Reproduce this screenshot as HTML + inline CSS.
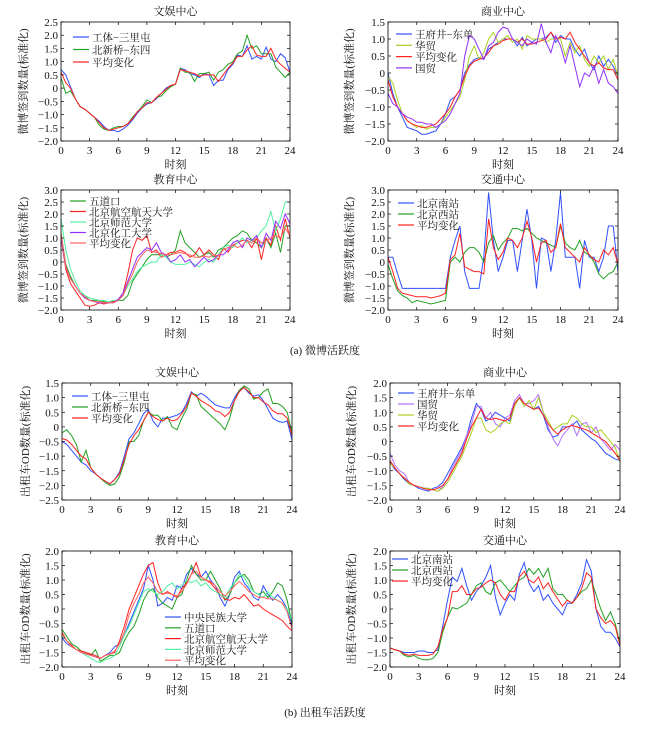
<!DOCTYPE html>
<html><head><meta charset="utf-8"><style>
body{margin:0;background:#fff}
svg text{font-family:"Liberation Serif","Noto Serif CJK SC",serif;fill:#111}
</style></head><body>
<svg id="fig" width="650" height="739" viewBox="0 0 650 739" xmlns="http://www.w3.org/2000/svg">
<text x="325" y="354" text-anchor="middle" font-size="11">(a) 微博活跃度</text>
<text x="325" y="716" text-anchor="middle" font-size="11">(b) 出租车活跃度</text>
</svg>
<script>
// data: values at t = 0,0.5,...,24
const xTicks=[0,3,6,9,12,15,18,21,24];
const a1Blue=[0.7,0.5,0.05,-0.4,-0.7,-0.8,-0.95,-1.1,-1.25,-1.45,-1.6,-1.6,-1.65,-1.55,-1.4,-1.2,-0.95,-0.75,-0.6,-0.55,-0.4,-0.2,0,0.1,0.15,0.75,0.7,0.55,0.5,0.4,0.55,0.5,0.1,0.3,0.3,0.7,0.9,1.25,1.2,1.6,1.1,1.2,1.1,1.55,1.1,1.0,1.3,1.15,0.6];
const a1Green=[0.4,-0.2,-0.1,-0.4,-0.7,-0.8,-0.95,-1.1,-1.4,-1.55,-1.6,-1.5,-1.45,-1.45,-1.35,-1.1,-0.9,-0.7,-0.45,-0.55,-0.35,-0.3,-0.1,0.05,0.15,0.75,0.6,0.6,0.25,0.55,0.55,0.6,0.3,0.6,0.7,0.9,1.0,1.3,1.4,2.0,1.5,1.6,1.3,1.3,1.3,0.8,0.6,0.4,0.6];
const a1Avg=[0.6,0.2,0,-0.4,-0.7,-0.8,-0.95,-1.1,-1.3,-1.5,-1.6,-1.55,-1.5,-1.45,-1.35,-1.15,-0.9,-0.75,-0.55,-0.55,-0.35,-0.2,-0.05,0.1,0.15,0.7,0.65,0.6,0.55,0.45,0.5,0.5,0.5,0.25,0.5,0.75,0.95,1.2,1.2,1.45,1.6,1.25,1.2,1.2,1.5,1.1,0.9,0.75,0.6];
const a2Blue=[0,-0.6,-1.0,-1.3,-1.6,-1.65,-1.7,-1.8,-1.8,-1.75,-1.7,-1.5,-1.2,-0.8,-0.7,-0.5,0,0.25,0.4,0.45,0.4,0.7,0.8,0.9,1.0,1.0,1.0,0.8,1.05,0.8,0.9,1.0,1.0,1.05,1.2,0.9,1.1,1.0,1.0,0.7,0.5,0.7,0.3,0.1,0.5,0.2,0.4,0.2,-0.1];
const a2Lime=[-0.1,-0.3,-0.8,-1.2,-1.4,-1.5,-1.6,-1.55,-1.65,-1.6,-1.6,-1.5,-1.3,-1.1,-0.9,-0.7,-0.2,0.5,0.8,0.4,0.6,1.0,1.2,0.9,1.0,1.1,0.9,1.0,0.7,1.1,1.0,1.0,1.0,0.9,1.0,1.0,1.0,0.5,0.9,0.6,0.8,0.4,0.2,0.5,0.3,0.5,0.1,0.4,-0.1];
const a2Avg=[-0.2,-0.7,-1.0,-1.2,-1.4,-1.5,-1.55,-1.6,-1.6,-1.55,-1.5,-1.35,-1.2,-1.0,-0.7,-0.5,-0.1,0.2,0.35,0.4,0.45,0.6,0.8,0.85,0.95,1.0,1.0,0.9,1.0,0.85,0.85,0.9,0.95,1.0,1.2,1.0,1.05,1.0,1.2,0.9,0.7,0.5,0.3,0.2,0.3,0.15,0.1,0.1,-0.2];
const a2Purple=[-0.6,-0.9,-1.0,-1.2,-1.3,-1.35,-1.45,-1.45,-1.5,-1.5,-1.6,-1.5,-1.4,-1.2,-0.9,-0.6,0.5,1.1,1.0,0.7,0.4,0.8,0.9,1.2,1.35,1.3,1.0,0.9,0.8,1.0,0.9,0.85,1.45,0.9,0.6,1.1,0.8,0.3,0.8,0.2,-0.4,0.0,-0.1,0.2,-0.3,0.1,-0.3,-0.4,-0.6];
const a3Green=[1.2,-0.1,-0.6,-1.0,-1.3,-1.4,-1.6,-1.6,-1.6,-1.65,-1.7,-1.65,-1.6,-1.6,-1.4,-0.8,-0.5,-0.2,0.1,0.3,0.3,0.3,0.2,0.3,0.5,1.3,0.8,0.6,0.4,0.2,0.3,0.4,0.2,0.5,0.6,0.8,1.0,1.1,1.3,1.2,0.9,0.8,0.6,1.0,0.6,1.2,0.4,1.5,1.5];
const a3Red=[1.0,-0.3,-0.9,-1.2,-1.5,-1.8,-1.85,-1.8,-1.7,-1.75,-1.7,-1.65,-1.6,-1.3,-0.5,0.5,1.0,0.9,1.1,0.4,0.5,0.2,0.3,0.4,0.4,0.5,0.4,0.2,0.3,0.6,0.3,0.5,0.3,0.1,0.6,0.4,0.7,0.8,0.9,0.9,0.6,1.0,0.1,1.0,0.7,1.5,0.9,1.8,1.0];
const a3Aqua=[1.8,0.5,-0.3,-0.8,-1.2,-1.4,-1.5,-1.55,-1.6,-1.6,-1.65,-1.6,-1.6,-1.4,-1.0,-0.7,-0.4,-0.2,-0.1,0.0,0.0,0.3,0.2,0.0,-0.1,-0.1,-0.1,0.0,-0.1,-0.2,0.0,0.1,0.0,0.3,0.6,0.7,0.6,0.8,1.0,0.8,0.9,1.0,1.3,1.5,2.1,1.3,1.8,2.5,2.5];
const a3Purple=[1.0,-0.2,-0.7,-1.0,-1.3,-1.5,-1.6,-1.65,-1.7,-1.7,-1.7,-1.7,-1.55,-1.3,-0.8,-0.3,0.2,0.4,0.6,0.5,0.8,0.4,0.3,0.0,0.1,0.3,0.0,0.1,-0.2,0.0,0.2,0.0,0.1,0.3,0.3,0.5,0.8,0.9,0.6,1.0,0.9,1.1,0.6,1.2,0.9,1.7,1.4,2.0,1.6];
const a3Avg=[1.2,-0.2,-0.7,-1.0,-1.3,-1.45,-1.6,-1.65,-1.65,-1.7,-1.7,-1.7,-1.6,-1.4,-0.9,-0.5,0.0,0.3,0.5,0.45,0.4,0.35,0.3,0.3,0.35,0.4,0.35,0.3,0.2,0.2,0.25,0.2,0.3,0.25,0.5,0.6,0.7,0.6,0.7,0.9,0.8,1.0,0.8,0.9,1.0,1.1,1.0,1.4,1.1];
const a4Blue=[0.2,0.2,-0.5,-1.1,-1.1,-1.1,-1.1,-1.1,-1.1,-1.1,-1.1,-1.1,-1.1,0.2,0.9,1.5,-0.4,-1.1,-1.1,-1.1,0.2,2.9,0.9,-0.4,0.2,0.9,0.9,-0.4,0.9,2.2,0.9,-1.1,1.0,0.9,-0.4,0.9,2.9,0.2,0.2,0.2,-1.1,0.9,0.2,0.2,-0.4,0.2,1.5,1.5,-0.4];
const a4Green=[-0.1,-0.7,-1.2,-1.4,-1.5,-1.7,-1.6,-1.65,-1.7,-1.75,-1.7,-1.65,-1.6,0.0,0.2,0.0,0.4,0.6,0.6,0.4,0.0,0.8,1.1,0.5,0.8,1.0,1.4,1.4,1.3,1.4,1.2,1.0,0.9,0.8,0.7,0.6,1.5,0.8,0.6,0.5,0.9,0.4,0.3,0.0,-0.5,-0.7,-0.5,-0.4,0.0];
const a4Avg=[0.2,-0.4,-1.1,-1.3,-1.35,-1.4,-1.45,-1.45,-1.45,-1.5,-1.45,-1.4,-1.3,0.1,0.3,1.2,-0.2,-0.3,-0.4,-0.4,-0.5,1.8,0.6,0.1,0.4,1.0,0.9,0.6,1.0,1.7,1.0,0.0,0.8,0.9,0.4,0.6,1.6,0.6,0.4,0.2,0.0,0.6,0.3,0.1,0.0,0.5,0.3,0.6,-0.1];
const b1Blue=[-0.5,-0.6,-0.8,-1.0,-1.2,-1.3,-1.5,-1.6,-1.75,-1.85,-1.95,-1.8,-1.55,-1.0,-0.4,-0.2,0.1,0.45,0.6,0.2,0.0,0.3,0.3,0.35,0.4,0.5,0.8,1.2,1.05,1.15,1.05,0.9,0.75,0.7,0.65,0.65,1.0,1.25,1.35,1.15,1.05,1.1,0.9,0.6,0.3,0.2,0.15,0.2,-0.45];
const b1Green=[-0.2,-0.1,-0.3,-0.6,-1.2,-0.8,-1.4,-1.6,-1.75,-1.9,-2.0,-1.95,-1.7,-1.2,-0.5,-0.5,-0.3,0.2,0.5,0.4,0.4,0.2,0.35,0.0,-0.1,0.3,0.6,1.15,1.1,0.7,0.55,0.4,0.25,0.1,-0.1,0.3,0.9,1.25,1.4,1.3,0.95,1.0,1.2,1.3,0.8,0.8,0.7,0.5,-0.2];
const b1Avg=[-0.4,-0.45,-0.6,-0.8,-1.0,-1.1,-1.4,-1.6,-1.75,-1.85,-1.95,-1.8,-1.6,-1.1,-0.6,-0.3,-0.1,0.2,0.5,0.35,0.25,0.2,0.3,0.2,0.25,0.45,0.7,1.15,1.05,0.9,0.8,0.7,0.55,0.5,0.35,0.5,0.9,1.2,1.35,1.2,1.0,1.0,0.85,0.75,0.55,0.45,0.45,0.3,-0.3];
const b2Blue=[-0.7,-0.95,-1.1,-1.3,-1.45,-1.5,-1.6,-1.65,-1.7,-1.6,-1.55,-1.4,-1.1,-0.8,-0.5,-0.2,0.2,0.8,1.3,1.1,0.7,0.8,1.0,0.9,0.8,0.7,1.3,1.5,1.3,1.2,1.1,1.2,0.9,0.4,0.15,0.2,0.5,0.5,0.55,0.7,0.4,0.25,0.1,0.0,-0.2,-0.4,-0.5,-0.6,-0.65];
const b2Purple=[-0.4,-0.8,-1.0,-1.1,-1.4,-1.5,-1.55,-1.6,-1.6,-1.65,-1.7,-1.55,-1.3,-0.9,-0.6,-0.3,0.2,0.6,1.2,1.2,0.8,1.0,0.6,0.5,0.8,0.9,1.4,1.6,1.3,1.3,1.4,1.6,1.0,0.5,0.1,-0.15,0.2,0.4,0.6,0.2,0.6,0.65,0.3,0.5,0.1,-0.1,-0.3,-0.1,-0.3];
const b2Lime=[-0.75,-0.9,-1.1,-1.25,-1.45,-1.5,-1.55,-1.6,-1.6,-1.65,-1.7,-1.6,-1.4,-1.1,-0.8,-0.5,-0.1,0.3,0.8,0.8,0.4,0.3,0.4,0.6,0.7,0.6,1.2,1.5,1.2,1.4,1.1,1.5,1.0,0.7,0.4,0.5,0.6,0.6,0.9,0.8,0.6,0.5,0.5,0.3,0.4,0.2,0.0,-0.2,-0.7];
const b2Avg=[-0.65,-0.9,-1.1,-1.25,-1.4,-1.5,-1.55,-1.6,-1.65,-1.65,-1.6,-1.5,-1.3,-1.0,-0.7,-0.4,0.1,0.5,0.8,1.1,0.8,0.75,0.8,0.75,0.7,0.8,1.3,1.5,1.3,1.2,1.1,1.15,0.9,0.6,0.4,0.25,0.4,0.5,0.55,0.5,0.45,0.4,0.3,0.2,0.1,0.0,-0.2,-0.4,-0.65];
const b3Blue=[-1.0,-1.2,-1.3,-1.4,-1.5,-1.55,-1.6,-1.65,-1.7,-1.6,-1.5,-1.3,-1.2,-0.9,-0.5,-0.1,0.3,0.7,1.5,1.0,0.1,0.2,0.4,0.3,0.8,0.7,1.2,1.4,1.2,1.1,1.3,1.0,0.8,0.4,0.1,0.5,1.1,1.3,0.9,0.7,0.4,0.3,0.8,0.5,0.3,0.5,0.3,0.0,-0.6];
const b3Green=[-0.7,-0.95,-1.2,-1.3,-1.45,-1.5,-1.6,-1.4,-1.8,-1.7,-1.6,-1.6,-1.5,-1.1,-0.8,-0.6,-0.2,0.3,0.6,0.7,0.4,0.2,0.1,0.0,0.4,0.5,1.0,1.5,1.2,1.0,1.0,1.3,1.0,0.7,0.3,0.5,0.9,1.1,1.2,1.0,0.6,0.5,0.6,0.4,0.6,0.9,0.8,0.3,-0.5];
const b3Red=[-0.8,-1.1,-1.25,-1.4,-1.45,-1.5,-1.55,-1.6,-1.7,-1.6,-1.55,-1.5,-1.1,-0.6,0.0,0.4,0.8,1.2,1.5,1.6,0.9,0.5,0.6,0.5,0.4,0.7,0.9,1.2,1.6,1.1,1.0,0.9,0.7,0.5,0.35,0.3,0.4,0.35,0.5,0.3,0.1,0.15,0.0,-0.1,-0.2,-0.3,-0.4,-0.6,-0.75];
const b3Aqua=[-0.9,-1.1,-1.3,-1.4,-1.5,-1.6,-1.7,-1.8,-1.85,-1.75,-1.7,-1.6,-1.3,-0.9,-0.6,-0.2,0.2,0.6,0.7,0.6,0.5,0.6,0.8,0.9,0.7,0.8,1.0,0.9,1.0,0.8,0.9,0.7,0.6,0.5,0.4,0.7,0.9,1.2,1.1,0.8,0.6,0.5,0.4,0.6,0.4,0.3,0.2,0.0,-0.4];
const b3Avg=[-0.85,-1.1,-1.3,-1.4,-1.5,-1.55,-1.6,-1.65,-1.7,-1.6,-1.55,-1.45,-1.2,-0.8,-0.2,0.2,0.5,0.9,1.1,0.9,0.6,0.5,0.55,0.5,0.45,0.6,0.85,1.2,1.3,1.1,1.0,0.95,0.8,0.6,0.45,0.6,0.8,0.95,0.8,0.6,0.5,0.4,0.4,0.35,0.35,0.3,0.2,-0.1,-0.7];
const b4Blue=[-1.35,-1.4,-1.45,-1.5,-1.5,-1.5,-1.45,-1.45,-1.5,-1.5,-1.4,-0.6,0.3,1.1,0.95,1.4,0.8,0.3,0.6,0.8,1.1,1.5,0.4,-0.2,0.2,0.5,0.3,1.2,1.6,0.9,0.6,0.8,0.3,0.5,0.2,0.0,-0.2,0.2,0.2,0.5,0.9,1.7,1.3,0.0,-0.6,-0.8,-0.8,-1.0,-1.3];
const b4Green=[-1.35,-1.4,-1.45,-1.6,-1.65,-1.6,-1.7,-1.75,-1.75,-1.7,-1.5,-0.8,-0.3,0.05,0.0,0.1,0.2,0.5,0.8,0.9,0.6,0.5,0.9,1.0,0.8,0.6,0.8,1.0,1.1,1.4,1.2,1.4,1.1,1.4,0.7,0.5,0.5,0.3,0.2,0.4,0.6,0.7,1.0,0.5,0.0,-0.4,-0.1,-0.5,-1.2];
const b4Avg=[-1.35,-1.4,-1.45,-1.55,-1.6,-1.55,-1.6,-1.6,-1.6,-1.55,-1.3,-0.7,-0.3,0.6,0.6,0.8,0.5,0.5,0.7,0.75,0.9,1.0,0.9,0.5,0.3,0.6,0.6,1.1,1.3,1.0,0.9,1.1,0.7,0.9,0.6,0.35,0.1,0.3,0.2,0.4,0.7,1.25,1.1,0.0,-0.3,-0.5,-0.4,-0.6,-1.25];

const C={blue:'#3050ff',green:'#22a022',red:'#ff2020',lime:'#a8d020',purple:'#9030ff',lpurple:'#b070ff',aqua:'#50f0a0',salmon:'#ff6060'};
const NS='http://www.w3.org/2000/svg';
const svg=document.getElementById('fig');
function mk(tag,attrs,parent){const e=document.createElementNS(NS,tag);for(const k in attrs)e.setAttribute(k,attrs[k]);(parent||svg).appendChild(e);return e;}
function fmt(v){if(Math.abs(v)<1e-9)return '0';const s=v.toFixed(1);return v<0?'\u2212'+s.slice(1):s;}

function panel(p){
  const g=mk('g',{});
  
  
  const X=t=>p.x0+(t/24)*(p.x1-p.x0);
  const Y=v=>p.y1-(v-p.ymin)/(p.ymax-p.ymin)*(p.y1-p.y0);
  const clip=mk('clipPath',{id:'c'+p.id},g);
  mk('rect',{x:p.x0,y:p.y0,width:p.x1-p.x0,height:p.y1-p.y0},clip);
  p.series.forEach(s=>{
    const d=s.v.map((v,i)=>(i?'L':'M')+X(i*0.5).toFixed(1)+','+Y(v).toFixed(1)).join('');
    const path=mk('path',{d:d,fill:'none',stroke:s.c,'stroke-width':1,'clip-path':'url(#c'+p.id+')'},g);
    
    
  });
  const frame=mk('rect',{x:p.x0,y:p.y0,width:p.x1-p.x0,height:p.y1-p.y0,fill:'none',stroke:'#000','stroke-width':0.8},g);
  
  
  xTicks.forEach(t=>{
    const x=X(t);
    mk('line',{x1:x,x2:x,y1:p.y1,y2:p.y1-3,stroke:'#000','stroke-width':0.7},g);
    mk('line',{x1:x,x2:x,y1:p.y0,y2:p.y0+3,stroke:'#000','stroke-width':0.7},g);
    const tx=mk('text',{x:x,y:p.y1+13,'text-anchor':'middle','font-size':11},g);
    
    
    tx.textContent=t;
  });
  for(let v=p.ymin;v<=p.ymax+1e-9;v+=0.5){
    const y=Y(v);
    mk('line',{x1:p.x0,x2:p.x0+3,y1:y,y2:y,stroke:'#000','stroke-width':0.7},g);
    mk('line',{x1:p.x1,x2:p.x1-3,y1:y,y2:y,stroke:'#000','stroke-width':0.7},g);
    const ty=mk('text',{x:p.x0-3,y:y+4,'text-anchor':'end','font-size':11},g);
    
    
    ty.textContent=fmt(v);
  }
  const cx=(p.x0+p.x1)/2;
  const tt=mk('text',{x:cx,y:p.y0-7,'text-anchor':'middle','font-size':11},g);
  
  
  tt.textContent=p.title;
  const xl=mk('text',{x:cx,y:p.y1+27,'text-anchor':'middle','font-size':11},g);
  
  
  xl.textContent='时刻';
  const ym=(p.y0+p.y1)/2;
  const yl=mk('text',{x:p.ylx,y:ym,'text-anchor':'middle','font-size':11,transform:'rotate(-90 '+p.ylx+' '+ym+')'},g);
  
  
  yl.textContent=p.ylabel;
  p.series.forEach((s,i)=>{
    const yy=p.leg.y+i*p.leg.dy;
    const li=mk('line',{x1:p.leg.x,x2:p.leg.x+16,y1:yy,y2:yy,stroke:s.c,'stroke-width':1.2},g);
    
    
    const lt=mk('text',{x:p.leg.x+19,y:yy+4,'font-size':10.5},g);
    
    
    lt.textContent=s.name;
  });
}
const W='微博签到数量(标准化)', T='出租车OD数量(标准化)';
panel({id:'weibo-entertainment',title:'文娱中心',ylabel:W,x0:61,x1:290,y0:22,y1:141,ymin:-2,ymax:2.5,ylx:27,leg:{x:73,y:37,dy:12.5},
 series:[{key:'gongti',name:'工体−三里屯',c:C.blue,v:a1Blue},{key:'beixinqiao',name:'北新桥−东四',c:C.green,v:a1Green},{key:'avg',name:'平均变化',c:C.red,v:a1Avg}]});
panel({id:'weibo-commercial',title:'商业中心',ylabel:W,x0:388,x1:618,y0:22,y1:141,ymin:-2,ymax:1.5,ylx:353,leg:{x:396,y:34,dy:11.3},
 series:[{key:'wangfujing',name:'王府井−东单',c:C.blue,v:a2Blue},{key:'huamao',name:'华贸',c:C.lime,v:a2Lime},{key:'avg',name:'平均变化',c:C.red,v:a2Avg},{key:'guomao',name:'国贸',c:C.purple,v:a2Purple}]});
panel({id:'weibo-education',title:'教育中心',ylabel:W,x0:61,x1:290,y0:190,y1:310,ymin:-2,ymax:3,ylx:27,leg:{x:70,y:201,dy:10.5},
 series:[{key:'wudaokou',name:'五道口',c:C.green,v:a3Green},{key:'beihang',name:'北京航空航天大学',c:C.red,v:a3Red},{key:'beishi',name:'北京师范大学',c:C.aqua,v:a3Aqua},{key:'beihua',name:'北京化工大学',c:C.purple,v:a3Purple},{key:'avg',name:'平均变化',c:C.salmon,v:a3Avg}]});
panel({id:'weibo-transport',title:'交通中心',ylabel:W,x0:388,x1:618,y0:190,y1:310,ymin:-2,ymax:3,ylx:353,leg:{x:398,y:203,dy:11},
 series:[{key:'south-station',name:'北京南站',c:C.blue,v:a4Blue},{key:'west-station',name:'北京西站',c:C.green,v:a4Green},{key:'avg',name:'平均变化',c:C.red,v:a4Avg}]});
panel({id:'taxi-entertainment',title:'文娱中心',ylabel:T,x0:62,x1:292,y0:383,y1:500,ymin:-2.5,ymax:1.5,ylx:29,leg:{x:72,y:396,dy:11},
 series:[{key:'gongti',name:'工体−三里屯',c:C.blue,v:b1Blue},{key:'beixinqiao',name:'北新桥−东四',c:C.green,v:b1Green},{key:'avg',name:'平均变化',c:C.red,v:b1Avg}]});
panel({id:'taxi-commercial',title:'商业中心',ylabel:T,x0:390,x1:620,y0:383,y1:500,ymin:-2,ymax:2,ylx:355,leg:{x:398,y:393,dy:11},
 series:[{key:'wangfujing',name:'王府井−东单',c:C.blue,v:b2Blue},{key:'guomao',name:'国贸',c:C.lpurple,v:b2Purple},{key:'huamao',name:'华贸',c:C.lime,v:b2Lime},{key:'avg',name:'平均变化',c:C.red,v:b2Avg}]});
panel({id:'taxi-education',title:'教育中心',ylabel:T,x0:62,x1:292,y0:551,y1:667,ymin:-2,ymax:2,ylx:29,leg:{x:165,y:617,dy:10.8},
 series:[{key:'minzu',name:'中央民族大学',c:C.blue,v:b3Blue},{key:'wudaokou',name:'五道口',c:C.green,v:b3Green},{key:'beihang',name:'北京航空航天大学',c:C.red,v:b3Red},{key:'beishi',name:'北京师范大学',c:C.aqua,v:b3Aqua},{key:'avg',name:'平均变化',c:C.salmon,v:b3Avg}]});
panel({id:'taxi-transport',title:'交通中心',ylabel:T,x0:390,x1:620,y0:551,y1:667,ymin:-2,ymax:2,ylx:355,leg:{x:392,y:559,dy:11},
 series:[{key:'south-station',name:'北京南站',c:C.blue,v:b4Blue},{key:'west-station',name:'北京西站',c:C.green,v:b4Green},{key:'avg',name:'平均变化',c:C.red,v:b4Avg}]});
</script>
</body></html>
